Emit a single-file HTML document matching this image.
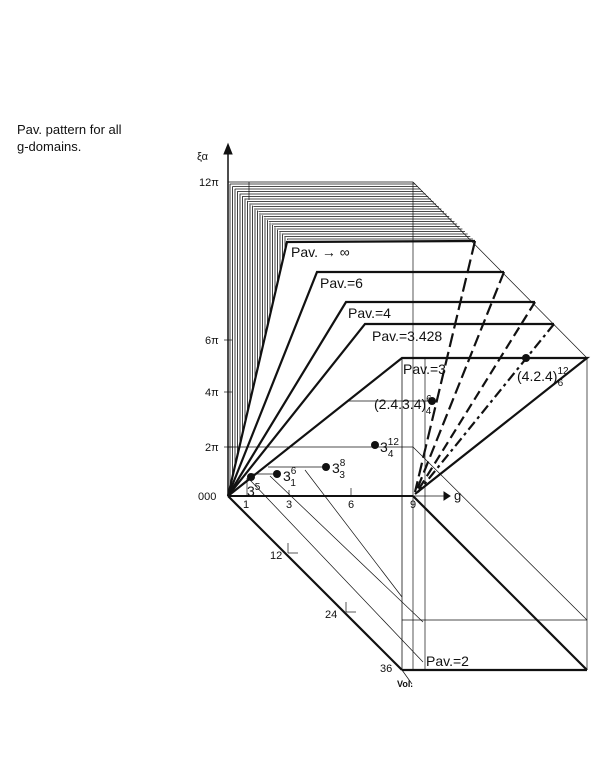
<!DOCTYPE html>
<html><head><meta charset="utf-8"><style>
body{margin:0;background:#fff;width:600px;height:768px;overflow:hidden}
svg{position:absolute;left:0;top:0}
text{font-family:"Liberation Sans",sans-serif;fill:#111}
</style></head><body>
<svg id="s" width="600" height="768" viewBox="0 0 600 768">
<text x="17" y="134" font-size="13">Pav. pattern for all</text>
<text x="17" y="151" font-size="13">g-domains.</text>
<g stroke="#111" fill="none">
<g id="hatch" stroke-width="0.8"></g>
<line x1="228" y1="150" x2="228" y2="496" stroke-width="1.5"/>
<polygon points="228,144 224,154 232,154" fill="#111"/>
<line x1="228" y1="496" x2="413" y2="496" stroke-width="2"/>
<line x1="413" y1="496" x2="448" y2="496" stroke-width="0.8"/>
<polygon points="450,496 444,492 444,500" fill="#111"/>
<g stroke-width="0.7">
<line x1="228" y1="182" x2="413" y2="182"/>
<line x1="413" y1="182" x2="587" y2="358"/>
<line x1="249" y1="182" x2="249" y2="200"/>
<line x1="413" y1="182" x2="413" y2="670"/>
<line x1="425" y1="358" x2="425" y2="670"/>
<line x1="587" y1="358" x2="587" y2="670"/>
<line x1="228" y1="447" x2="413" y2="447"/>
<line x1="413" y1="447" x2="587" y2="620"/>
<line x1="402" y1="620" x2="587" y2="620"/>
<line x1="250" y1="480" x2="423" y2="662"/>
<line x1="270" y1="476" x2="423" y2="622"/>
<line x1="305" y1="470" x2="402" y2="597"/>
<line x1="348" y1="401" x2="428" y2="401"/>
<line x1="268" y1="467" x2="326" y2="467"/>
<line x1="250" y1="474" x2="277" y2="474"/>
<line x1="247" y1="478" x2="247" y2="496"/>
<line x1="289" y1="490" x2="289" y2="496"/>
<line x1="351" y1="488" x2="351" y2="496"/>
<line x1="288" y1="543" x2="288" y2="553"/><line x1="288" y1="553" x2="298" y2="553"/>
<line x1="346" y1="602" x2="346" y2="612"/><line x1="346" y1="612" x2="356" y2="612"/>
<line x1="224" y1="340" x2="232" y2="340"/><line x1="224" y1="392" x2="232" y2="392"/>
<line x1="224" y1="447" x2="232" y2="447"/>
<line x1="402" y1="670" x2="412" y2="684"/>
</g>
<line x1="228" y1="496" x2="402" y2="670" stroke-width="2.2"/>
<line x1="402" y1="670" x2="587" y2="670" stroke-width="2.2"/>
<line x1="413" y1="496" x2="587" y2="670" stroke-width="2.2"/>
<line x1="402" y1="358" x2="402" y2="670" stroke-width="0.8"/>
<g stroke-width="2.2">
<polyline points="228,496 287,242 475,241"/>
<polyline points="228,496 317,272 504,272"/>
<polyline points="228,496 346,302 535,302"/>
<polyline points="228,496 365,324 554,324"/>
<polyline points="228,496 402,358 587,358 415,494"/>
<line x1="475" y1="241" x2="415" y2="492" stroke-dasharray="14,5"/>
<line x1="504" y1="272" x2="416" y2="492" stroke-dasharray="12,5"/>
<line x1="535" y1="302" x2="417" y2="492" stroke-dasharray="10,5"/>
<line x1="554" y1="324" x2="418" y2="492" stroke-dasharray="10,4,3,4"/>
</g>
</g>
<g fill="#111">
<circle cx="251" cy="477" r="4"/><circle cx="277" cy="474" r="4"/>
<circle cx="326" cy="467" r="4"/><circle cx="375" cy="445" r="4"/>
<circle cx="432" cy="401" r="4"/><circle cx="526" cy="358" r="4"/>
</g>
<g font-size="11">
<text x="197" y="160">ξα</text>
<text x="199" y="186">12π</text>
<text x="205" y="344">6π</text>
<text x="205" y="396">4π</text>
<text x="205" y="451">2π</text>
<text x="198" y="500">000</text>
<text x="243" y="508">1</text><text x="286" y="508">3</text>
<text x="348" y="508">6</text><text x="410" y="508">9</text>
<text x="454" y="500" font-size="13">g</text>
<text x="270" y="559">12</text><text x="325" y="618">24</text>
<text x="380" y="672">36</text>
<text x="397" y="687" font-size="9" font-weight="bold" fill="#223">Vol.</text>
</g>
<g font-size="14">
<text x="291" y="257">Pav. → ∞</text>
<text x="320" y="288">Pav.=6</text>
<text x="348" y="318">Pav.=4</text>
<text x="372" y="341">Pav.=3.428</text>
<text x="403" y="374">Pav.=3</text>
<text x="426" y="666">Pav.=2</text>
<text x="247" y="496">3<tspan font-size="10" dy="-6">5</tspan></text>
<text x="283" y="481">3<tspan font-size="10" dy="-7">6</tspan><tspan font-size="10" dx="-6" dy="12">1</tspan></text>
<text x="332" y="473">3<tspan font-size="10" dy="-7">8</tspan><tspan font-size="10" dx="-6" dy="12">3</tspan></text>
<text x="380" y="452">3<tspan font-size="10" dy="-7">12</tspan><tspan font-size="10" dx="-11" dy="12">4</tspan></text>
<text x="374" y="409">(2.4.3.4)<tspan font-size="10" dy="-7">6</tspan><tspan font-size="10" dx="-6" dy="12">4</tspan></text>
<text x="517" y="381">(4.2.4)<tspan font-size="10" dy="-7">12</tspan><tspan font-size="10" dx="-11" dy="12">6</tspan></text>
</g>
</svg>
<script>
var g=document.getElementById('hatch'),ns='http://www.w3.org/2000/svg';
function L(a,b,c,d){var l=document.createElementNS(ns,'line');l.setAttribute('x1',a);l.setAttribute('y1',b);l.setAttribute('x2',c);l.setAttribute('y2',d);g.appendChild(l);}
for(var x=230;x<=288;x+=2.5){var t=182+(x-228)*58/60,b=496-(x-228)*254/59;L(x,t,x,b);}
for(var y=184;y<=240;y+=2.5){L(228+(y-182)*60/58,y,413+(y-182)*62/59,y);}
</script>
</body></html>
